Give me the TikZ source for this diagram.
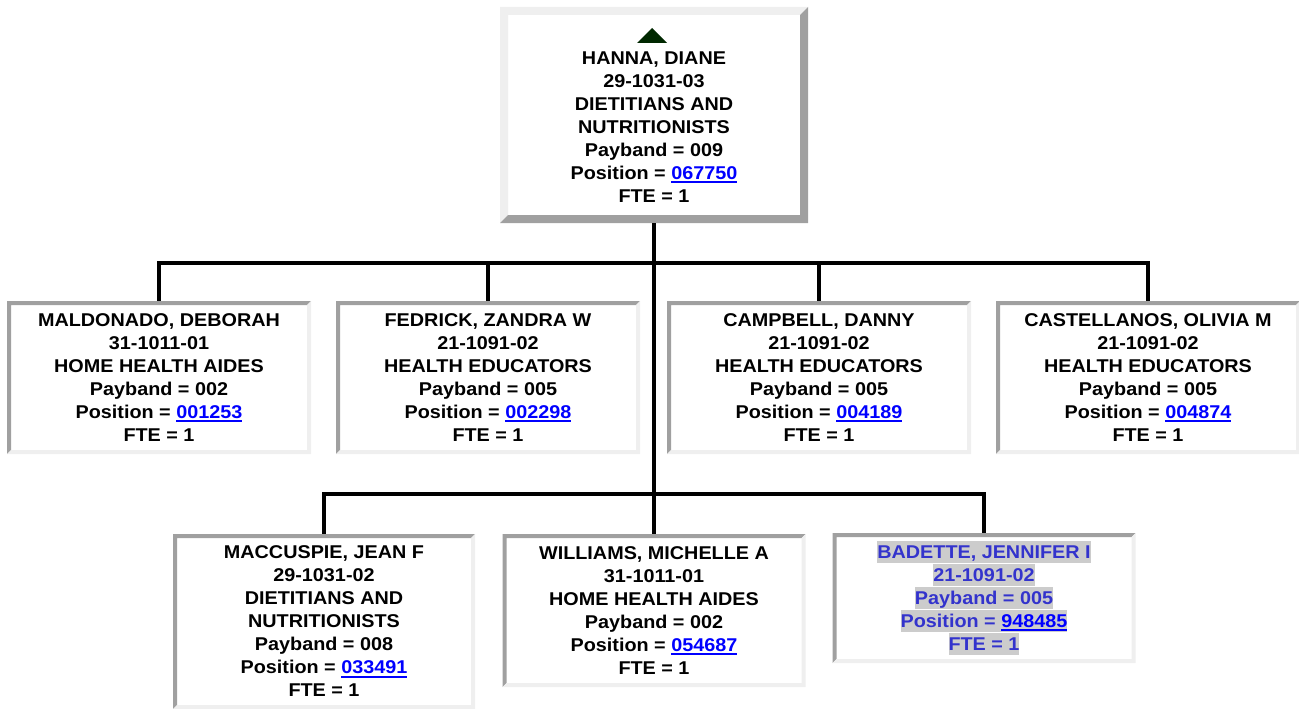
\documentclass[tikz,border=0pt]{standalone}
\usepackage{fontspec}
\setmainfont{Liberation Sans}[FakeStretch=1.07]
\usepackage{xcolor}
\definecolor{bevdark}{RGB}{160,160,160}
\definecolor{bevlight}{RGB}{239,239,239}
\definecolor{linkblue}{RGB}{0,0,255}
\definecolor{selblue}{RGB}{51,51,204}
\definecolor{selgray}{RGB}{204,204,204}
\definecolor{upgreen}{RGB}{0,40,0}

\newlength{\lnkwd}
\newcommand{\poslink}[1]{\settowidth{\lnkwd}{#1}\textcolor{linkblue}{#1\llap{\rule[-4pt]{\lnkwd}{2pt}}}}
\newcommand{\selline}[1]{{\setlength{\fboxsep}{0pt}\colorbox{selgray}{\rule[-4.5pt]{0pt}{21.5pt}#1}}}
\newcommand{\bevelframe}[3]{%
  \fill[#2] (path picture bounding box.south west) -- (path picture bounding box.north west)
    -- (path picture bounding box.north east) -- ([xshift=-#1pt,yshift=-#1pt]path picture bounding box.north east)
    -- ([xshift=#1pt,yshift=-#1pt]path picture bounding box.north west)
    -- ([xshift=#1pt,yshift=#1pt]path picture bounding box.south west) -- cycle;
  \fill[#3] (path picture bounding box.south west) -- (path picture bounding box.south east)
    -- (path picture bounding box.north east) -- ([xshift=-#1pt,yshift=-#1pt]path picture bounding box.north east)
    -- ([xshift=-#1pt,yshift=#1pt]path picture bounding box.south east)
    -- ([xshift=#1pt,yshift=#1pt]path picture bounding box.south west) -- cycle;}

\begin{document}
\begin{tikzpicture}[x=1pt,y=-1pt,
  cardtext/.style={align=center,inner sep=0pt,font=\fontsize{18.5}{23}\selectfont\bfseries},
  staffbox/.style={cardtext,fill=white,minimum width=304,minimum height=153,
    path picture={\bevelframe{4}{bevdark}{bevlight}}},
  headbox/.style={fill=white,inner sep=0pt,minimum width=308,minimum height=216,
    path picture={\bevelframe{8}{bevlight}{bevdark}}},
  wire/.style={line width=3.5pt}
]
  \useasboundingbox (0,0) rectangle (1299,709);
  % Head
  \node[headbox] (hanna) at (654,115) {};
  \fill[upgreen] (637,43) -- (652,28) -- (667,43) -- cycle;
  \node[cardtext] (hannatext) at (654,127) {HANNA, DIANE\\29-1031-03\\DIETITIANS AND\\NUTRITIONISTS\\
    Payband = 009\\Position = \poslink{067750}\\FTE = 1};
  % Row 1
  \node[staffbox] (maldonado) at (159,377.5) {MALDONADO, DEBORAH\\31-1011-01\\HOME HEALTH AIDES\\
    Payband = 002\\Position = \poslink{001253}\\FTE = 1};
  \node[staffbox] (fedrick) at (488,377.5) {FEDRICK, ZANDRA W\\21-1091-02\\HEALTH EDUCATORS\\
    Payband = 005\\Position = \poslink{002298}\\FTE = 1};
  \node[staffbox] (campbell) at (819,377.5) {CAMPBELL, DANNY\\21-1091-02\\HEALTH EDUCATORS\\
    Payband = 005\\Position = \poslink{004189}\\FTE = 1};
  \node[staffbox] (castellanos) at (1148,377.5) {CASTELLANOS, OLIVIA M\\21-1091-02\\HEALTH EDUCATORS\\
    Payband = 005\\Position = \poslink{004874}\\FTE = 1};
  % Row 2
  \node[staffbox,minimum width=302,minimum height=175] (maccuspie) at (324,621.5) {MACCUSPIE, JEAN F\\
    29-1031-02\\DIETITIANS AND\\NUTRITIONISTS\\Payband = 008\\Position = \poslink{033491}\\FTE = 1};
  \node[staffbox,minimum width=303] (williams) at (654,610.5) {WILLIAMS, MICHELLE A\\31-1011-01\\
    HOME HEALTH AIDES\\Payband = 002\\Position = \poslink{054687}\\FTE = 1};
  \node[staffbox,minimum width=303,minimum height=130,text=selblue] (badette) at (984,598)
    {\selline{BADETTE, JENNIFER I}\\\selline{21-1091-02}\\\selline{Payband = 005}\\
    \selline{Position = \poslink{948485}}\\\selline{FTE = 1}};
  % Connectors
  \coordinate (bus1) at (654,263);
  \coordinate (bus2) at (654,494);
  \draw[wire] (hanna.south) -- (bus1) -- (bus2);
  \draw[wire] (bus1) -| (maldonado.north);
  \draw[wire] (bus1) -| (fedrick.north);
  \draw[wire] (bus1) -| (campbell.north);
  \draw[wire] (bus1) -| (castellanos.north);
  \draw[wire] (bus2) -| (maccuspie.north);
  \draw[wire] (bus2) -| (williams.north);
  \draw[wire] (bus2) -| (badette.north);
\end{tikzpicture}
\end{document}
